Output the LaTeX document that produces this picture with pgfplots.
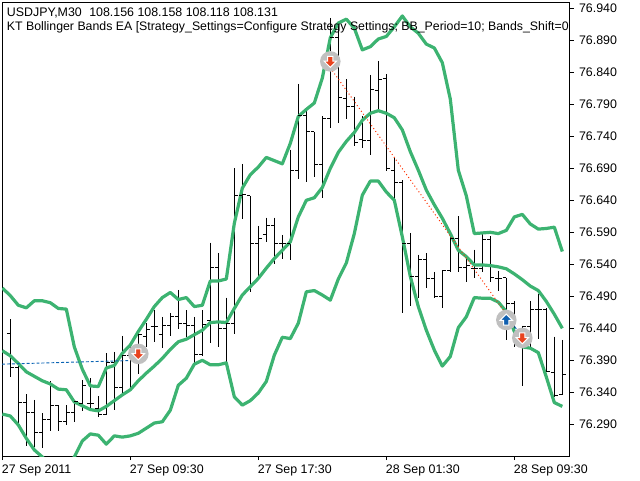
\documentclass[border=0pt]{standalone}
\usepackage{fontspec}
\setmainfont{Liberation Sans}
\usepackage{pgfplots}
\usepackage{pgfplotstable}
\pgfplotsset{compat=1.18}

\definecolor{band}{HTML}{3CB371}
\definecolor{sellc}{HTML}{E8431F}
\definecolor{buyc}{HTML}{0F5FB0}
\definecolor{ringc}{HTML}{C0C0C0}
\definecolor{bluetrade}{HTML}{0A64B4}
\definecolor{redtrade}{HTML}{FF3000}

% 1 px of the chart = 0.75pt here
\pgfplotstableread{
i open high low close
0 76.432 76.454 76.364 76.379
1 76.379 76.384 76.286 76.324
2 76.324 76.337 76.256 76.309
3 76.309 76.328 76.255 76.277
4 76.277 76.307 76.253 76.297
5 76.297 76.357 76.280 76.320
6 76.320 76.320 76.280 76.294
7 76.294 76.320 76.289 76.308
8 76.308 76.325 76.294 76.325
9 76.323 76.359 76.311 76.350
10 76.322 76.362 76.315 76.323
11 76.315 76.334 76.302 76.305
12 76.305 76.401 76.305 76.386
13 76.386 76.403 76.313 76.348
14 76.348 76.428 76.338 76.397
15 76.397 76.419 76.346 76.390
16 76.390 76.430 76.369 76.430
17 76.427 76.448 76.411 76.438
18 76.443 76.468 76.418 76.443
19 76.430 76.458 76.410 76.444
20 76.444 76.464 76.428 76.459
21 76.459 76.500 76.439 76.447
22 76.447 76.468 76.426 76.445
23 76.445 76.458 76.383 76.399
24 76.399 76.468 76.396 76.446
25 76.452 76.574 76.417 76.535
26 76.535 76.558 76.411 76.439
27 76.439 76.488 76.378 76.448
28 76.448 76.690 76.431 76.648
29 76.648 76.697 76.611 76.649
30 76.647 76.647 76.497 76.572
31 76.572 76.600 76.518 76.581
32 76.587 76.613 76.575 76.601
33 76.601 76.613 76.540 76.572
34 76.572 76.586 76.549 76.572
35 76.572 76.719 76.546 76.687
36 76.687 76.822 76.674 76.773
37 76.773 76.781 76.668 76.747
38 76.747 76.747 76.676 76.696
39 76.696 76.771 76.643 76.768
40 76.768 76.925 76.753 76.894
41 76.894 76.919 76.760 76.801
42 76.799 76.829 76.767 76.787
43 76.787 76.802 76.725 76.731
44 76.735 76.771 76.721 76.733
45 76.733 76.836 76.711 76.813
46 76.811 76.858 76.782 76.829
47 76.831 76.837 76.685 76.690
48 76.687 76.706 76.640 76.668
49 76.668 76.671 76.464 76.573
50 76.573 76.589 76.475 76.521
51 76.521 76.555 76.487 76.548
52 76.548 76.557 76.503 76.518
53 76.518 76.528 76.488 76.489
54 76.489 76.531 76.471 76.530
55 76.530 76.588 76.528 76.581
56 76.581 76.615 76.528 76.535
57 76.535 76.555 76.513 76.538
58 76.534 76.563 76.519 76.534
59 76.534 76.587 76.528 76.579
60 76.579 76.584 76.513 76.519
61 76.518 76.530 76.499 76.518
62 76.519 76.519 76.421 76.479
63 76.478 76.483 76.411 76.427
64 76.427 76.444 76.350 76.443
65 76.443 76.483 76.411 76.469
66 76.469 76.494 76.424 76.469
67 76.469 76.472 76.372 76.373
68 76.371 76.427 76.332 76.335
69 76.337 76.422 76.336 76.368
}\bars

\pgfplotstableread{
i upper middle lower
-1 76.503 76.405 76.306
0 76.491 76.397 76.303
1 76.476 76.385 76.289
2 76.472 76.372 76.268
3 76.483 76.365 76.250
4 76.483 76.358 76.239
5 76.480 76.353 76.226
6 76.471 76.345 76.222
7 76.470 76.344 76.222
8 76.411 76.325 76.239
9 76.376 76.319 76.264
10 76.350 76.313 76.275
11 76.349 76.311 76.273
12 76.378 76.318 76.259
13 76.382 76.327 76.272
14 76.401 76.336 76.270
15 76.414 76.344 76.272
16 76.435 76.358 76.276
17 76.454 76.370 76.284
18 76.474 76.381 76.292
19 76.488 76.393 76.294
20 76.496 76.407 76.312
21 76.485 76.419 76.351
22 76.488 76.423 76.362
23 76.474 76.430 76.384
24 76.476 76.437 76.390
25 76.514 76.449 76.383
26 76.514 76.450 76.383
27 76.517 76.449 76.386
28 76.604 76.471 76.333
29 76.659 76.492 76.320
30 76.680 76.505 76.327
31 76.692 76.518 76.339
32 76.707 76.534 76.357
33 76.702 76.549 76.398
34 76.697 76.562 76.426
35 76.729 76.575 76.424
36 76.771 76.614 76.448
37 76.782 76.640 76.497
38 76.792 76.644 76.499
39 76.831 76.660 76.492
40 76.894 76.690 76.484
41 76.917 76.715 76.517
42 76.923 76.732 76.542
43 76.909 76.746 76.588
44 76.875 76.765 76.648
45 76.880 76.776 76.670
46 76.892 76.780 76.670
47 76.896 76.776 76.653
48 76.911 76.769 76.640
49 76.928 76.750 76.583
50 76.911 76.716 76.521
51 76.901 76.687 76.474
52 76.884 76.656 76.437
53 76.878 76.633 76.406
54 76.855 76.612 76.381
55 76.798 76.588 76.396
56 76.687 76.562 76.441
57 76.647 76.552 76.458
58 76.588 76.539 76.488
59 76.589 76.539 76.487
60 76.590 76.538 76.487
61 76.588 76.536 76.481
62 76.593 76.533 76.466
63 76.614 76.525 76.435
64 76.618 76.516 76.411
65 76.603 76.506 76.409
66 76.595 76.499 76.402
67 76.596 76.482 76.364
68 76.598 76.462 76.324
69 76.560 76.440 76.318
}\bands

\pgfdeclareplotmark{opentick}{%
  \pgfpathmoveto{\pgfqpoint{-2.6pt}{0pt}}\pgfpathlineto{\pgfqpoint{0pt}{0pt}}\pgfusepath{stroke}}
\pgfdeclareplotmark{closetick}{%
  \pgfpathmoveto{\pgfqpoint{0pt}{0pt}}\pgfpathlineto{\pgfqpoint{2.6pt}{0pt}}\pgfusepath{stroke}}

\newcommand{\arrowpath}[1]{% #1 = 1 down, -1 up
  \pgfpathmoveto{\pgfpoint{-2pt}{#1*3.8pt}}%
  \pgfpathlineto{\pgfpoint{2pt}{#1*3.8pt}}%
  \pgfpathlineto{\pgfpoint{2pt}{#1*0.2pt}}%
  \pgfpathlineto{\pgfpoint{4.6pt}{#1*0.2pt}}%
  \pgfpathlineto{\pgfpoint{0pt}{#1*(-4.4pt)}}%
  \pgfpathlineto{\pgfpoint{-4.6pt}{#1*0.2pt}}%
  \pgfpathlineto{\pgfpoint{-2pt}{#1*0.2pt}}%
  \pgfpathclose}
\pgfdeclareplotmark{sellmark}{%
  \pgfsetfillcolor{ringc}\pgfpathcircle{\pgfpointorigin}{7.7pt}\pgfusepath{fill}%
  \pgfsetlinewidth{0.75pt}\pgfsetstrokecolor{white}\pgfsetfillcolor{sellc}%
  \arrowpath{1}\pgfusepath{fill,stroke}}
\pgfdeclareplotmark{buymark}{%
  \pgfsetfillcolor{ringc}\pgfpathcircle{\pgfpointorigin}{7.7pt}\pgfusepath{fill}%
  \pgfsetlinewidth{0.75pt}\pgfsetstrokecolor{white}\pgfsetfillcolor{buyc}%
  \arrowpath{-1}\pgfusepath{fill,stroke}}

\begin{document}
\begin{tikzpicture}
\useasboundingbox (0,0) rectangle (480pt,360pt);
\begin{axis}[
  at={(1.5pt,18pt)}, anchor=south west,
  scale only axis, width=426pt, height=340.5pt,
  xmin=-1.04, xmax=69.96,
  ymin=76.2405, ymax=76.9498,
  xtick={-1,15,31,47,63},
  xticklabels={27 Sep 2011,27 Sep 09:30,27 Sep 17:30,28 Sep 01:30,28 Sep 09:30},
  ytick={76.29,76.34,76.39,76.44,76.49,76.54,76.59,76.64,76.69,76.74,76.79,76.84,76.89,76.94},
  scaled y ticks=false,
  xtick pos=bottom, ytick pos=right, yticklabel pos=right,
  tick align=outside, major tick length=3pt,
  tick style={black, line width=0.75pt},
  axis line style={black, line width=0.75pt},
  /pgf/number format/assume math mode=true,
  y tick label style={/pgf/number format/fixed, /pgf/number format/fixed zerofill,
    /pgf/number format/precision=3, /pgf/number format/1000 sep={},
    anchor=west, inner sep=0pt, xshift=3.6pt},
  x tick label style={anchor=north west, inner sep=0pt, yshift=-3.5pt, xshift=-0.5pt},
  tick label style={font=\fontsize{9.3}{11}\selectfont},
]
\addplot[draw=none, mark=none, forget plot,
  error bars/.cd, y dir=minus, y explicit, error mark=none,
  error bar style={black, line width=0.8pt, solid}]
  table[x=i, y=high, y error expr=\thisrow{high}-\thisrow{low}] {\bars};
\addplot[only marks, mark=opentick, black, line width=0.75pt] table[x=i, y=open] {\bars};
\addplot[only marks, mark=closetick, black, line width=0.75pt] table[x=i, y=close] {\bars};

\addplot[band, line width=2.4pt, line join=round] table[x=i, y=upper] {\bands};
\addplot[band, line width=2.4pt, line join=round] table[x=i, y=middle] {\bands};
\addplot[band, line width=2.4pt, line join=round] table[x=i, y=lower] {\bands};

\addplot[bluetrade, line width=0.7pt, dash pattern=on 2.2pt off 1.5pt] coordinates {(-1.04,76.384) (16,76.390)};
\addplot[redtrade, line width=0.75pt, dash pattern=on 0.75pt off 1.9pt] coordinates {(40,76.847) (62,76.462)};
\addplot[bluetrade, line width=0.7pt, dash pattern=on 2.2pt off 1.5pt] coordinates {(62,76.462) (64,76.425)};

\addplot[only marks, mark=sellmark] coordinates {(16,76.400) (40,76.857) (64,76.425)};
\addplot[only marks, mark=buymark] coordinates {(62,76.453)};
\end{axis}
\begin{scope}[every node/.style={anchor=base west, inner sep=0pt, font=\fontsize{9.3}{11}\selectfont}]
\node at (5pt,348pt) {USDJPY,M30\hspace{0.6em}108.156 108.158 108.118 108.131};
\node[font=\fontsize{9.25}{11}\selectfont] at (5pt,337.5pt) {KT Bollinger Bands EA [Strategy\_Settings=Configure Strategy Settings; BB\_Period=10; Bands\_Shift=0};
\end{scope}
\end{tikzpicture}
\end{document}
